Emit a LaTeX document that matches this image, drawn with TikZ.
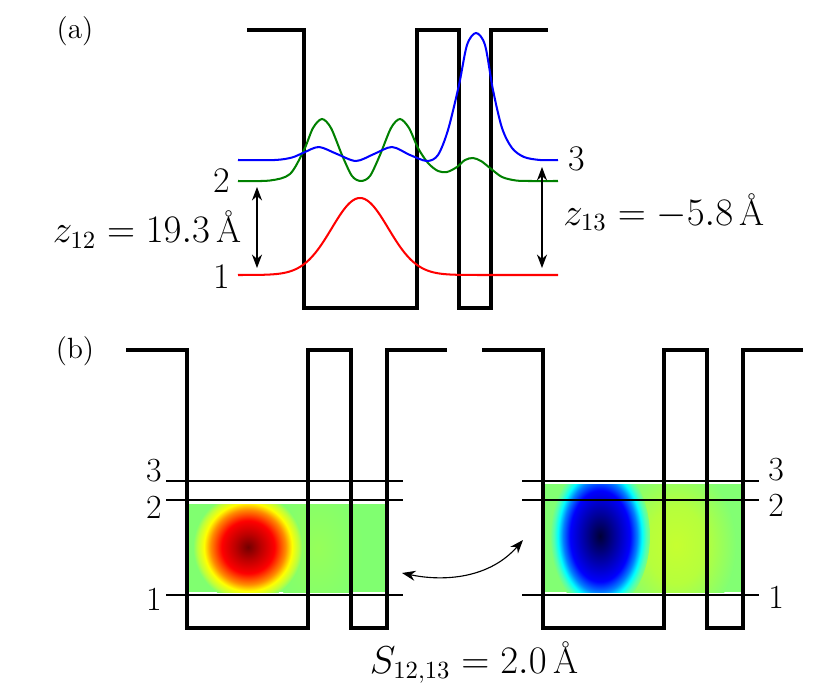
\documentclass[tikz,border=0pt]{standalone}
\usepackage{amsmath}
\usepackage{xcolor}
\usepackage{tikz}
\usetikzlibrary{positioning,calc,arrows.meta}

% colour maps of panel (b)
\definecolor{mapgreen}{RGB}{128,255,112}
\definecolor{mapgreenR}{RGB}{130,255,115}
\definecolor{spotDark}{RGB}{115,0,0}
\definecolor{spotDeep}{RGB}{190,0,0}
\definecolor{spotRed}{RGB}{255,0,0}
\definecolor{spotOrange}{RGB}{255,140,0}
\definecolor{spotYellow}{RGB}{255,255,0}
\definecolor{spotLime}{RGB}{190,255,60}
\definecolor{paleLime}{RGB}{150,255,90}
\definecolor{blobNavy}{RGB}{0,0,55}
\definecolor{blobDark}{RGB}{0,0,150}
\definecolor{blobBlue}{RGB}{0,0,255}
\definecolor{blobSky}{RGB}{0,128,255}
\definecolor{blobCyan}{RGB}{0,255,255}
\definecolor{blobAqua}{RGB}{80,255,180}
\definecolor{limeCore}{RGB}{198,255,48}
\definecolor{limeMid}{RGB}{182,255,60}
\definecolor{waveGreen}{RGB}{0,128,0}

% the path edge sits at 25bp
\pgfdeclareradialshading{redspot}{\pgfpoint{0bp}{0bp}}{%
  color(0bp)=(spotDark); color(6bp)=(spotDeep); color(12bp)=(spotRed);
  color(17bp)=(spotOrange); color(20bp)=(spotYellow); color(23bp)=(spotLime);
  color(25bp)=(mapgreen); color(50bp)=(mapgreen)}
\pgfdeclareradialshading{paleSpot}{\pgfpoint{0bp}{0bp}}{%
  color(0bp)=(paleLime); color(25bp)=(mapgreen); color(50bp)=(mapgreen)}
\pgfdeclareradialshading{bluespot}{\pgfpoint{0bp}{0bp}}{%
  color(0bp)=(blobNavy); color(7bp)=(blobDark); color(15bp)=(blobBlue);
  color(18.5bp)=(blobSky); color(21bp)=(blobCyan); color(23bp)=(blobAqua);
  color(25bp)=(mapgreenR); color(50bp)=(mapgreenR)}
\pgfdeclareradialshading{limespot}{\pgfpoint{0bp}{0bp}}{%
  color(0bp)=(limeCore); color(12bp)=(limeMid); color(25bp)=(mapgreenR);
  color(50bp)=(mapgreenR)}

\begin{document}
\begin{tikzpicture}[x=0.444pt,y=-0.444pt,
  well/.style={line width=1.4pt,line join=miter},
  wave/.style={line width=0.9pt},
  level/.style={line width=0.6pt},
  gap/.style={{Stealth[length=6pt,width=4.5pt]}-{Stealth[length=6pt,width=4.5pt]},line width=0.5pt},
  big/.style={font=\fontsize{16}{19}\selectfont,inner sep=0pt},
  lvl/.style={font=\fontsize{15}{18}\selectfont,inner sep=0pt},
  tag/.style={font=\fontsize{13}{16}\selectfont}]

\useasboundingbox (0,0) rectangle (831,692);

% (a): wave functions in the double well
\node[tag] (tagA) at (75,31) {(a)};
\draw[well] (247,30) -| (304,308) -| (417,30) -| (459,308) -| (491,30) -- (548,30);

\draw[wave,red] plot[domain=238:558,samples=140] (\x,{275-77*exp(-((\x-360)/40)*((\x-360)/40))});
\draw[wave,waveGreen] plot[smooth] coordinates {(238,181) (270,180.5) (290,174) (304,150)
  (313,128) (322,119) (331,128) (342,155) (352,176) (361,181) (370,176) (380,155)
  (391,128) (400,119) (409,128) (418,148) (428,163) (438,171) (447,172) (457,167)
  (465,160) (473,158) (481,161) (490,168) (502,177) (516,180.5) (530,181) (558,181)};
\draw[wave,blue] plot[smooth] coordinates {(238,160) (275,160) (292,157.5) (304,152.5)
  (319,147) (337,154) (356,161) (374,154) (392,147) (410,155) (427,161) (438,155)
  (448,130) (459,85) (467,45) (476,33) (485,45) (493,90) (502,128) (512,148)
  (524,157) (540,160) (558,160)};

\node[big,anchor=base east] (nA2) at (230,192) {2};
\node[big,anchor=base east] (nA1) at (230,288) {1};
\node[big,anchor=base west] (nA3) at (568,170) {3};

\coordinate (zA2) at (257,187);
\coordinate (zA1) at (257,268);
\draw[gap] (zA2) -- (zA1);
\node[big,anchor=base east] (zAB) at (242,243) {$z_{12} = 19.3\,\text{\AA}$};

\coordinate (zC3) at (542,167);
\coordinate (zC1) at (542,268);
\draw[gap] (zC3) -- (zC1);
\node[big,anchor=base west] (zAC) at (563,225) {$z_{13} = -5.8\,\text{\AA}$};

% (b): overlap maps
\node[tag] (tagB) at (75,351) {(b)};

\begin{scope}
  \clip (187,504) rectangle (387,592);
  \fill[mapgreen] (187,504) rectangle (387,592);
  \shade[shading=paleSpot] (318,548) ellipse[x radius=45,y radius=70];
  \shade[shading=redspot] (248,547) circle[radius=55];
\end{scope}
\begin{scope}
  \clip (543,484) rectangle (742,592);
  \fill[mapgreenR] (543,484) rectangle (742,592);
  \shade[shading=limespot] (676,545) ellipse[x radius=60,y radius=80];
  \shade[shading=bluespot] (600,536) ellipse[x radius=50,y radius=76];
\end{scope}

\foreach \dx in {0,356}{
  \foreach \yy in {481,500,595}
    \draw[level] ({166+\dx},\yy) -- ({403+\dx},\yy);
  \draw[well] ({126+\dx},350) -| ({187+\dx},628) -| ({308+\dx},350) -| ({351+\dx},628)
    -| ({387+\dx},350) -- ({447+\dx},350);
}

\node[lvl,anchor=base east] (nB3) at (162,482) {3};
\node[lvl,anchor=base east] (nB2) at (162,518) {2};
\node[lvl,anchor=base east] (nB1) at (162,610) {1};
\node[lvl,anchor=base west] (nC3) at (768,480) {3};
\node[lvl,anchor=base west] (nC2) at (768,517) {2};
\node[lvl,anchor=base west] (nC1) at (768,608) {1};

\coordinate (swL) at (402,573);
\coordinate (swR) at (523,540);
\draw[gap] (swL) .. controls (445,582) and (490,578) .. (swR);

\node[big,anchor=base] (sLab) at (474,673) {$S_{12,13} = 2.0\,\text{\AA}$};
\end{tikzpicture}
\end{document}
